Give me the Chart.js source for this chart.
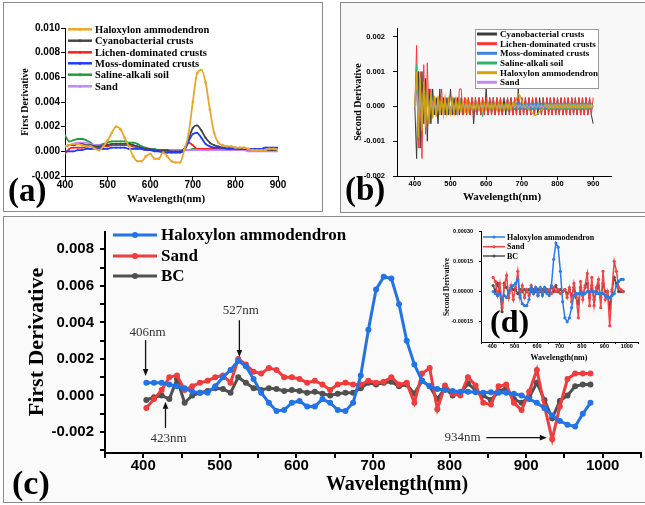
<!DOCTYPE html>
<html>
<head>
<meta charset="utf-8">
<script src="https://cdn.jsdelivr.net/npm/chart.js@4/dist/chart.umd.min.js"></script>
<style>
  html, body { margin: 0; padding: 0; background: #fff; }
  #page { position: relative; width: 645px; height: 505px; overflow: hidden; }
  .frame { position: absolute; box-sizing: border-box; border: 1px solid #8a8a8a; }
  canvas { position: absolute; left: 0; top: 0; }
</style>
</head>
<body>
<div id="page">
  <div class="frame" style="left:3px;top:2px;width:320px;height:210px;background:#fff"></div>
  <div class="frame" style="left:340px;top:2px;width:320px;height:211px;background:#f8f8f8"></div>
  <div class="frame" style="left:3px;top:216px;width:660px;height:287px;background:#fafafa"></div>
  <canvas id="chartA" width="645" height="505"></canvas>
  <canvas id="chartB" width="645" height="505"></canvas>
  <canvas id="chartC" width="645" height="505"></canvas>
  <canvas id="chartD" width="645" height="505"></canvas>
</div>
<script>
// ---- (a) first derivative, six surfaces ----
var wlA = [400,410,420,430,440,450,460,470,480,490,
  500,510,520,530,540,550,560,570,580,590,
  600,610,620,630,640,650,660,670,680,690,
  700,710,720,730,740,750,760,770,780,790,
  800,810,820,830,840,850,860,870,880,890,900];
var haloA = [0.0004,0.0005,0.0006,0.0006,0.0005,0.0004,0.0004,0.0002,0.0001,0.0004,
  0.0009,0.0015,0.0020,0.0018,0.0011,0.0004,-0.0004,-0.0008,-0.0008,-0.0004,
  -0.0002,-0.0006,-0.0006,-0.0001,-0.0004,-0.0008,-0.0009,-0.0009,0.0001,0.0014,
  0.0040,0.0063,0.0066,0.0056,0.0034,0.0015,0.0007,0.0005,0.0004,0.0004,
  0.0003,0.0003,0.0003,0.0002,0.0001,0.0001,0.0001,0.0001,0.0002,0.0002,0.0001];
var cyanoA = [0.0004,0.0005,0.0005,0.0006,0.0006,0.0005,0.0005,0.0004,0.0004,0.0005,
  0.0005,0.0006,0.0006,0.0006,0.0006,0.0006,0.0005,0.0004,0.0003,0.0002,
  0.0002,0.0001,0.0001,0.0001,0.0001,0.0000,0.0000,0.0000,0.0002,0.0010,
  0.0019,0.0021,0.0017,0.0011,0.0007,0.0005,0.0004,0.0003,0.0003,0.0003,
  0.0003,0.0002,0.0002,0.0002,0.0002,0.0002,0.0001,0.0001,0.0001,0.0001,0.0001];
var lichenA = [-0.0002,0.0002,0.0003,0.0003,0.0003,0.0003,0.0002,0.0003,0.0003,0.0004,
  0.0004,0.0005,0.0005,0.0005,0.0005,0.0005,0.0004,0.0003,0.0002,0.0001,
  0.0001,0.0001,0.0001,0.0000,0.0000,0.0000,0.0000,0.0000,0.0001,0.0007,
  0.0005,0.0002,0.0002,0.0002,0.0002,0.0002,0.0002,0.0002,0.0002,0.0002,
  0.0002,0.0001,0.0001,0.0001,0.0001,0.0001,0.0001,0.0001,0.0001,0.0001,0.0001];
var mossA = [0.0000,0.0000,0.0000,0.0001,0.0001,0.0002,0.0002,0.0002,0.0002,0.0002,
  0.0002,0.0003,0.0003,0.0003,0.0003,0.0002,0.0002,0.0002,0.0002,0.0001,
  0.0001,0.0000,0.0000,-0.0001,-0.0001,-0.0001,-0.0001,-0.0001,0.0001,0.0008,
  0.0014,0.0015,0.0011,0.0006,0.0004,0.0003,0.0003,0.0003,0.0002,0.0002,
  0.0002,0.0002,0.0002,0.0002,0.0002,0.0002,0.0002,0.0003,0.0003,0.0003,0.0003];
var salineA = [0.0013,0.0008,0.0009,0.0010,0.0010,0.0009,0.0007,0.0005,0.0005,0.0006,
  0.0007,0.0008,0.0008,0.0008,0.0008,0.0007,0.0007,0.0006,0.0004,0.0003,
  0.0002,0.0002,0.0001,0.0001,0.0001,0.0001,0.0001,0.0001,0.0001,0.0001,
  0.0002,0.0002,0.0002,0.0002,0.0002,0.0002,0.0002,0.0002,0.0002,0.0002,
  0.0002,0.0002,0.0001,0.0001,0.0001,0.0001,0.0001,0.0001,0.0001,0.0001,0.0001];
var sandA = [0.0004,0.0005,0.0006,0.0007,0.0007,0.0007,0.0006,0.0005,0.0005,0.0005,
  0.0005,0.0006,0.0006,0.0006,0.0006,0.0006,0.0005,0.0004,0.0003,0.0002,
  0.0002,0.0001,0.0001,0.0001,0.0001,0.0001,0.0001,0.0001,0.0001,0.0001,
  0.0001,0.0001,0.0001,0.0001,0.0001,0.0001,0.0001,0.0001,0.0001,0.0001,
  0.0001,0.0001,0.0001,0.0000,0.0000,0.0000,0.0000,0.0000,0.0000,0.0000,0.0000];
var ticksAx = [400,500,600,700,800,900];
var ticksAy = [-0.002,0,0.002,0.004,0.006,0.008,0.010];

// ---- (b) second derivative, values in units of 1e-4 ----
var unitB = 1e-4;
var wlB = [400,405,410,415,420,425,430,435,440,445,
  450,455,460,465,470,475,480,485,490,495,
  500,505,510,515,520,525,530,535,540,545,
  550,555,560,565,570,575,580,585,590,595,
  600,605,610,615,620,625,630,635,640,645,
  650,655,660,665,670,675,680,685,690,695,
  700,705,710,715,720,725,730,735,740,745,
  750,755,760,765,770,775,780,785,790,795,
  800,805,810,815,820,825,830,835,840,845,
  850,855,860,865,870,875,880,885,890,895,900];
var cyanoB = [0,-15,10,-12,10,-5,8,-10,5,-5,
  5,-2.5,2.5,-5,5,-2.5,2.5,-2.5,2.5,-2.5,
  5,-2.5,2.5,-2.5,2.5,-2.5,2.5,-2.5,2.5,-2.5,
  2.5,-2.5,2.5,-5,2.5,-2.5,2.5,-2.5,2.5,-2.5,
  5,-2.5,2.5,-2.5,2.5,-2.5,2.5,-2.5,2.5,-2.5,
  2.5,-2.5,2.5,-2.5,2.5,-2.5,2.5,-2.5,5,-2.5,
  2.5,-2.5,2.5,-2.5,2.5,-2.5,2.5,-2.5,2.5,-2.5,
  2.5,-2.5,2.5,-2.5,2.5,-2.5,2.5,-2.5,2.5,-2.5,
  2.5,-2.5,2.5,-2.5,2.5,-2.5,2.5,-2.5,2.5,-2.5,
  2.5,-2.5,2.5,-2.5,2.5,-2.5,2.5,-2.5,2.5,-2.5,-5];
var lichenB = [0,17.5,-12,10,-15,12,-8,12.5,-5,5,
  -2.5,2.5,-2.5,2.5,-2.5,5,-2.5,2.5,-2.5,2.5,
  -2.5,2.5,-2.5,2.5,-2.5,5,5,-2.5,2.5,-2.5,
  2.5,-2.5,2.5,-2.5,2.5,-2.5,2.5,-2.5,2.5,-2.5,
  2.5,-2.5,2.5,-2.5,2.5,-2.5,2.5,-2.5,2.5,-2.5,
  0,0,2.5,-2.5,2.5,-2.5,2.5,-2.5,2.5,-2.5,
  2.5,-2.5,2.5,-2.5,2.5,-2.5,2.5,-2.5,2.5,0,
  0,-2.5,2.5,-2.5,2.5,-2.5,2.5,-2.5,2.5,-2.5,
  2.5,-2.5,2.5,-2.5,2.5,-2.5,2.5,-2.5,2.5,-2.5,
  2.5,-2.5,2.5,-2.5,2.5,-2.5,2.5,-2.5,2.5,-2.5,2.5];
var mossB = [0,5,-6,4,-5,4,-3,5,-2,1.5,
  -1.5,1,-1,1.5,-1,1,-1.5,1,-1,1,
  -1,1,-1,1,-1,1.5,-1,1,-1,1,
  -1,1,-1,1,-1.5,1,-1,1,-1,1,
  -1,1,-1,1,-1,1,-1,1,-1,1,
  -1,1,-1,1,-1,1,-1,1,1.5,-1,
  1,-1,1,-1,1,-1,1,-1,1,-1,
  1,-1,1,-1,1,-1,1,-1,1,-1,
  1,-1,1,-1,1,-1,1,-1,1,-1,
  1,-1,1,-1,1,-1,1,-1,1,-1,0];
var salineB = [0,12,-7,8,-6,6,-5,4,-4,3,
  -3,2.5,-2.5,2,-2,2,-2,1.5,-1.5,1.5,
  -1.5,1.5,-1.5,1.5,-1.5,1.5,-1.5,1,-1,1,
  -1,1,-1,1,-1,1,-1,1,-3,1,
  -1,1,-1,1,-1,1,-1,1,-1,1,
  -1,1,-1,1,-1,1,-1,1,-1,1,
  -1,1,-1,1,-1,1,-1,1,-1,1,
  -1,1,-1,1,-1,1,-1,1,-1,1,
  -1,1,-1,1,-1,1,-1,1,-1,1,
  -1,1,-1,1,-1,1,-1,1,-1,1,0];
var haloB = [0,10,-9,8,-7,7,-6,5,-5,4,
  -3.5,3,-3,3,-2.5,2.5,-2.5,2.5,-2,2,
  -2,2,-2,2,-2,2,-1.5,1.5,-1.5,1.5,
  -1.5,1,-1,1,-1,1,-1,1,-1,1,
  -1,1,-1,1,-1,1,-1,1,-1,1,
  -1,1,-1,1,-1,1,0.5,2,3.5,3,
  1.5,0.5,0,-0.5,-1,-1.5,-2,-2.5,-2.5,-2,
  -1.5,-1,-0.5,0,0.5,-0.5,0.5,-0.5,0.5,-0.5,
  0.5,-0.5,0.5,-0.5,0.5,-0.5,0.5,-0.5,0.5,-0.5,
  0.5,-0.5,0.5,-0.5,0.5,-0.5,0.5,-0.5,0.5,-0.5,0];
var sandB = [0,3,-3,2,-2,1.5,-1.5,1,-1,0.5,
  -0.5,0.5,-0.5,0.5,-0.5,0.5,-0.5,0.5,-0.5,0.5,
  -0.5,0.5,-0.5,0.5,-0.5,0.5,-0.5,0.5,-0.5,0.5,
  -0.5,0.5,-0.5,0.5,-0.5,0.5,-0.5,0.5,-0.5,0.5,
  -0.5,0.5,-0.5,0.5,-0.5,0.5,-0.5,0.5,-0.5,0.5,
  -0.5,0.5,-0.5,0.5,-0.5,0.5,-0.5,0.5,-0.5,0.5,
  -0.5,0.5,-0.5,0.5,-0.5,0.5,-0.5,0.5,-0.5,0.5,
  -0.5,0.5,-0.5,0.5,-0.5,0.5,-0.5,0.5,-0.5,0.5,
  -0.5,0.5,-0.5,0.5,-0.5,0.5,-0.5,0.5,-0.5,0.5,
  -0.5,0.5,-0.5,0.5,-0.5,0.5,-0.5,0.5,-0.5,0.5,0];
var ticksBx = [400,500,600,700,800,900];
var ticksBy = [-0.002,-0.001,0,0.001,0.002];

// ---- (c) first derivative and (d) second derivative, three surfaces ----
var wlC = [404,414,424,434,444,454,464,474,484,494,
  504,514,524,534,544,554,564,574,584,594,
  604,614,624,634,644,654,664,674,684,694,
  704,714,724,734,744,754,764,774,784,794,
  804,814,824,834,844,854,864,874,884,894,
  904,914,924,934,944,954,964,974,984];
var haloC = [0.0007,0.0007,0.0007,0.0006,0.0005,0.0004,0.0002,0.00015,0.00015,0.0005,
  0.0010,0.0014,0.0019,0.0016,0.0009,0.00015,-0.0004,-0.00085,-0.0008,-0.0004,
  -0.0003,-0.0006,-0.0006,-0.0002,-0.0004,-0.0008,-0.00085,-0.0004,0.0011,0.0036,
  0.0058,0.0065,0.0064,0.0050,0.0030,0.0017,0.0008,0.0005,0.00035,0.0003,
  0.00025,0.0002,0.0002,0.00018,0.00015,0.00017,0.00015,0.00015,0.0001,0.0000,
  -0.0002,-0.0004,-0.0007,-0.0011,-0.0014,-0.0016,-0.0017,-0.0010,-0.0004];
var sandC = [-0.00068,-0.0002,0.0003,0.0010,0.0011,0.0003,0.0005,0.0007,0.0008,0.0010,
  0.0011,0.0007,0.0020,0.0017,0.0013,0.0012,0.0015,0.0014,0.0010,0.0010,
  0.0009,0.0007,0.0008,0.0006,0.0003,0.0006,0.0007,0.0006,0.0006,0.0008,
  0.0007,0.00075,0.0010,0.0006,0.0007,-0.0004,0.0012,0.0015,-0.00075,0.00055,
  0.0001,0.0000,0.0010,0.00055,-0.0004,-0.0005,0.0005,0.0006,-0.0004,-0.0008,
  0.0002,0.0014,-0.0006,-0.0024,-0.0006,0.0009,0.0012,0.0012,0.0012];
var bcC = [-0.00025,-0.0001,0.0000,-0.0002,0.0009,-0.0004,0.0000,0.00015,0.00025,0.0004,
  0.00035,0.00015,0.0010,0.0007,0.0004,0.0003,0.0004,0.00035,0.00025,0.0003,
  0.00025,0.00015,0.0002,0.0001,0.0000,0.0001,0.00015,0.00015,0.0004,0.0007,
  0.0006,0.0007,0.00075,0.0005,0.0006,0.0001,0.0008,0.0005,-0.0002,0.0004,
  0.0000,0.0001,0.00065,0.0003,0.0000,-0.00025,0.0002,0.0004,-0.0002,-0.0004,
  -0.0001,0.0007,-0.00025,-0.00125,-0.0003,0.0000,0.0005,0.0006,0.0006];
var haloD = [0,-0.00001,-0.00002,-0.00001,-0.00004,-0.00002,-0.00003,0,0.00002,0.00003,
  0.00004,0.00006,-0.00002,-0.00006,-0.00007,-0.00007,-0.00004,0.00002,-0.00001,0.00002,
  -0.00002,0.00002,-0.00002,0.00002,-0.00001,-0.00002,0.00003,0.00016,0.00024,0.00022,
  0.0001,-0.00005,-0.00013,-0.00015,-0.00013,-0.00008,-0.00002,-0.00001,-0.00001,-0.00001,
  -0.00001,-0.00001,0,0,0,0,-0.00001,-0.00001,-0.00001,-0.00001,
  -0.00002,-0.00003,-0.00003,-0.00002,-0.00001,0.00003,0.00005,0.00006,0.00006];
var sandD = [0.00007,0.00005,-0.00002,0.00004,-0.00008,0.00003,0.00008,-0.00003,0.00003,-0.00004,
  0.00002,0.0001,-0.00003,0.00003,-0.00003,0.00001,-0.00002,0.00003,-0.00001,0.00002,
  -0.00002,0.00001,-0.00001,0.00002,0,0.00001,-0.00001,0.00002,0,0.00001,
  -0.00001,0,0.00001,-0.00003,0.00002,-0.00005,0.00004,-0.00002,-0.00013,0.00005,
  -0.00004,0.00003,0.00009,-0.00007,0.00007,-0.00007,0.00002,0.00006,-0.00008,0.0001,
  -0.00004,0,-0.00017,0.00001,0.00015,0.0001,0.00002,0.00001,0];
var bcD = [0.00003,0,0.00004,0,-0.0001,0.00004,0.00002,-0.00001,0.00002,0.00001,
  0.00001,-0.00001,0.00001,0,0.00001,0,0.00001,0,0.00001,0,
  0.00001,0,0.00001,0,0.00001,0,0.00002,0,0.00003,0,
  0.00001,0,0.00001,-0.00001,0.00001,-0.00002,0.00002,-0.00003,-0.00006,0.00002,
  -0.00002,0.00002,0.00004,-0.00003,0.00003,-0.00004,0,0.00003,-0.00003,0.00004,
  0,0,-0.00008,0,0.00007,0.00004,0,0,0];
var ticksCx = [400,500,600,700,800,900,1000];
var minorCx = [350,450,550,650,750,850,950,1050];
var ticksCy = [-0.002,0,0.002,0.004,0.006,0.008];
var minorCy = [-0.003,-0.001,0.001,0.003,0.005,0.007];
var ticksDy = [-0.00015,0,0.00015,0.0003];

// ---- layout helpers ----
var W = 645, H = 505;
var SANS = '"Liberation Sans", Arial, sans-serif';
var SERIF = '"Liberation Serif", "Times New Roman", serif';

// area = [left, top, right, bottom] of the plot box; box = [y axis width, x axis height]
function pad(a, box) {
  return { left: a[0] - box[0], top: a[1], right: W - a[2], bottom: H - a[3] - box[1] };
}

function axis(o) {
  var all = o.major.concat(o.minor || []).sort(function (p, q) { return p - q; });
  return {
    type: 'linear', min: o.min, max: o.max,
    afterBuildTicks: function (s) { s.ticks = all.map(function (v) { return { value: v }; }); },
    afterFit: function (s) { if (o.y) s.width = o.box[0]; else s.height = o.box[1]; },
    ticks: {
      autoSkip: false, maxRotation: 0, padding: o.pad, color: '#000',
      font: { family: SANS, size: o.size, weight: 'bold', lineHeight: 1 },
      callback: function (v) { return o.major.indexOf(v) >= 0 ? v.toFixed(o.dec) : ''; }
    },
    grid: { drawOnChartArea: false, drawTicks: true, tickLength: o.tick, color: '#000', lineWidth: o.lw || 1 },
    border: { display: true, color: '#000', width: o.lw || 1 }
  };
}

function series(label, xs, ys, unit, color, w, r, order, smooth) {
  return {
    label: label,
    data: xs.map(function (x, i) { return { x: x, y: ys[i] * unit }; }),
    borderColor: color, backgroundColor: color,
    borderWidth: w, pointRadius: r, pointBorderWidth: 0, pointHoverRadius: 0,
    order: order, fill: false,
    tension: smooth ? 0.4 : 0,
    cubicInterpolationMode: smooth ? 'monotone' : 'default'
  };
}

function options(area, box, scales, plug) {
  var p = { legend: { display: false }, tooltip: { enabled: false } };
  for (var k in plug) p[k] = plug[k];
  return {
    responsive: false, animation: false, devicePixelRatio: 1, events: [],
    layout: { padding: pad(area, box) },
    scales: scales,
    plugins: p
  };
}

// ---- plugins: free text, in-plot legend, arrows ----
var pageText = {
  id: 'pageText',
  afterDraw: function (chart, args, o) {
    if (!o || !o.items) return;
    var ctx = chart.ctx;
    o.items.forEach(function (t) {
      ctx.save();
      ctx.font = t.font;
      ctx.fillStyle = '#000';
      ctx.textAlign = t.align || 'center';
      ctx.textBaseline = t.base || 'middle';
      ctx.translate(t.x, t.y);
      if (t.rot) ctx.rotate(t.rot * Math.PI / 180);
      ctx.fillText(t.text, 0, 0);
      ctx.restore();
    });
  }
};

var plotLegend = {
  id: 'plotLegend',
  afterDraw: function (chart, args, o) {
    if (!o || !o.rows) return;
    var ctx = chart.ctx;
    ctx.save();
    if (o.box) {
      ctx.fillStyle = '#fff';
      ctx.fillRect(o.box[0], o.box[1], o.box[2] - o.box[0], o.box[3] - o.box[1]);
      ctx.strokeStyle = '#9a9a9a';
      ctx.lineWidth = 1;
      ctx.strokeRect(o.box[0] + 0.5, o.box[1] + 0.5, o.box[2] - o.box[0], o.box[3] - o.box[1]);
    }
    o.rows.forEach(function (r) {
      var ds = chart.data.datasets[r.ds];
      ctx.strokeStyle = ds.borderColor;
      ctx.lineWidth = o.lw;
      ctx.beginPath();
      ctx.moveTo(o.x0, r.y);
      ctx.lineTo(o.x1, r.y);
      ctx.stroke();
      if (o.mark) {
        ctx.fillStyle = ds.borderColor;
        ctx.beginPath();
        ctx.arc((o.x0 + o.x1) / 2, r.y, o.mark, 0, Math.PI * 2);
        ctx.fill();
      }
      ctx.fillStyle = '#000';
      ctx.font = o.font;
      ctx.textAlign = 'left';
      ctx.textBaseline = 'middle';
      ctx.fillText(ds.label, o.tx, r.y + 0.5);
    });
    ctx.restore();
  }
};

var arrows = {
  id: 'arrows',
  afterDraw: function (chart, args, o) {
    if (!o || !o.lines) return;
    var sx = chart.scales.x, sy = chart.scales.y, ctx = chart.ctx;
    ctx.save();
    ctx.strokeStyle = '#111';
    ctx.fillStyle = '#111';
    ctx.lineWidth = 1.3;
    o.lines.forEach(function (a) {
      var x1 = sx.getPixelForValue(a.from[0]), y1 = sy.getPixelForValue(a.from[1]);
      var x2 = sx.getPixelForValue(a.to[0]), y2 = sy.getPixelForValue(a.to[1]);
      var ang = Math.atan2(y2 - y1, x2 - x1), c = Math.cos(ang), s = Math.sin(ang);
      ctx.beginPath();
      ctx.moveTo(x1, y1);
      ctx.lineTo(x2 - 5 * c, y2 - 5 * s);
      ctx.stroke();
      ctx.beginPath();
      ctx.moveTo(x2, y2);
      ctx.lineTo(x2 - 7 * c + 2.8 * s, y2 - 7 * s - 2.8 * c);
      ctx.lineTo(x2 - 7 * c - 2.8 * s, y2 - 7 * s + 2.8 * c);
      ctx.closePath();
      ctx.fill();
    });
    ctx.fillStyle = '#333';
    ctx.font = o.font;
    ctx.textAlign = 'center';
    ctx.textBaseline = 'middle';
    o.notes.forEach(function (n) {
      ctx.fillText(n.text, sx.getPixelForValue(n.at[0]), sy.getPixelForValue(n.at[1]));
    });
    ctx.restore();
  }
};

Chart.register(pageText, plotLegend, arrows);

// ---- (a) ----
var boxA = [60, 20];
new Chart(document.getElementById('chartA'), {
  type: 'line',
  data: { datasets: [
    series('Haloxylon ammodendron', wlA, haloA, 1, '#E9A72C', 1.8, 1.3, 0, true),
    series('Cyanobacterial crusts', wlA, cyanoA, 1, '#474747', 1.8, 0.9, 2, true),
    series('Lichen-dominated crusts', wlA, lichenA, 1, '#FF1F1F', 1.8, 0.9, 4, true),
    series('Moss-dominated crusts', wlA, mossA, 1, '#1E3BFF', 1.8, 0.9, 1, true),
    series('Saline-alkali soil', wlA, salineA, 1, '#239A3B', 1.8, 0.9, 5, true),
    series('Sand', wlA, sandA, 1, '#C286FF', 1.8, 0.9, 3, true)
  ] },
  options: options([65, 28, 278, 176], boxA, {
    x: axis({ box: boxA, min: 400, max: 900, major: ticksAx, dec: 0, size: 10, tick: 4, pad: 0 }),
    y: axis({ box: boxA, y: true, min: -0.002, max: 0.010, major: ticksAy, dec: 3, size: 10, tick: 4, pad: 1 })
  }, {
    pageText: { items: [
      { text: 'First Derivative', x: 25, y: 102, rot: -90, font: 'bold 10px ' + SERIF },
      { text: 'Wavelength(nm)', x: 166, y: 199, font: 'bold 11px ' + SERIF },
      { text: '(a)', x: 8, y: 201, align: 'left', base: 'alphabetic', font: 'bold 33px ' + SERIF }
    ] },
    plotLegend: { x0: 68, x1: 92, tx: 95, lw: 2.5, mark: 1.5, font: 'bold 10.5px ' + SERIF,
      rows: [{ ds: 0, y: 29.3 }, { ds: 1, y: 40.7 }, { ds: 2, y: 52.3 }, { ds: 3, y: 63.3 }, { ds: 4, y: 74.7 }, { ds: 5, y: 86.3 }] }
  })
});

// ---- (b) ----
var boxB = [50, 20];
new Chart(document.getElementById('chartB'), {
  type: 'line',
  data: { datasets: [
    series('Cyanobacterial crusts', wlB, cyanoB, unitB, '#3a3a3a', 1, 0, 5, false),
    series('Lichen-dominated crusts', wlB, lichenB, unitB, '#FF3434', 1, 0, 4, false),
    series('Moss-dominated crusts', wlB, mossB, unitB, '#3F80E4', 1, 0, 3, false),
    series('Saline-alkali soil', wlB, salineB, unitB, '#2FB36E', 1, 0, 2, false),
    series('Haloxylon ammodendron', wlB, haloB, unitB, '#D6A20E', 1.2, 0, 0, false),
    series('Sand', wlB, sandB, unitB, '#C48AF2', 1, 0, 1, false)
  ] },
  options: options([397, 28, 611, 176], boxB, {
    x: axis({ box: boxB, min: 350, max: 950, major: ticksBx, dec: 0, size: 7.5, tick: 4, pad: 0 }),
    y: axis({ box: boxB, y: true, min: -0.002, max: 0.00225, major: ticksBy, dec: 3, size: 7.5, tick: 4, pad: 8 })
  }, {
    pageText: { items: [
      { text: 'Second Derivative', x: 358, y: 102, rot: -90, font: 'bold 10px ' + SERIF },
      { text: 'Wavelength(nm)', x: 502, y: 197, font: 'bold 11px ' + SERIF },
      { text: '(b)', x: 345, y: 200, align: 'left', base: 'alphabetic', font: 'bold 33px ' + SERIF }
    ] },
    plotLegend: { box: [475, 29, 598, 88], x0: 477, x1: 497, tx: 500, lw: 3, mark: 0, font: 'bold 9px ' + SERIF,
      rows: [{ ds: 0, y: 34 }, { ds: 1, y: 43.7 }, { ds: 2, y: 53.3 }, { ds: 3, y: 63 }, { ds: 4, y: 72.7 }, { ds: 5, y: 82.3 }] }
  })
});

// ---- (c) ----
var boxC = [95, 30];
new Chart(document.getElementById('chartC'), {
  type: 'line',
  data: { datasets: [
    series('Haloxylon ammodendron', wlC, haloC, 1, '#2273E6', 3, 3, 0, false),
    series('Sand', wlC, sandC, 1, '#F03C3C', 3, 3, 1, false),
    series('BC', wlC, bcC, 1, '#505050', 3, 3, 2, false)
  ] },
  options: options([105, 232, 641, 453], boxC, {
    x: axis({ box: boxC, min: 350, max: 1050, major: ticksCx, minor: minorCx, dec: 0, size: 15, tick: 5, pad: 0, lw: 2 }),
    y: axis({ box: boxC, y: true, min: -0.00315, max: 0.00895, major: ticksCy, minor: minorCy, dec: 3, size: 15, tick: 5, pad: 6, lw: 2 })
  }, {
    pageText: { items: [
      { text: 'First Derivative', x: 37, y: 342, rot: -90, font: 'bold 22px ' + SERIF },
      { text: 'Wavelength(nm)', x: 397, y: 485, font: 'bold 20px ' + SERIF },
      { text: '(c)', x: 12, y: 494, align: 'left', base: 'alphabetic', font: 'bold 34px ' + SERIF }
    ] },
    plotLegend: { x0: 113, x1: 157, tx: 161, lw: 3, mark: 3, font: 'bold 17px ' + SERIF,
      rows: [{ ds: 0, y: 235 }, { ds: 1, y: 256 }, { ds: 2, y: 276 }] },
    arrows: {
      font: '13px ' + SERIF,
      lines: [
        { from: [403, 0.00303], to: [403, 0.00106] },
        { from: [525.5, 0.00412], to: [525.5, 0.00211] },
        { from: [429, -0.00178], to: [429, -0.00034] },
        { from: [848, -0.00231], to: [927, -0.00231] }
      ],
      notes: [
        { text: '406nm', at: [405.5, 0.00347] },
        { text: '527nm', at: [527.5, 0.00463] },
        { text: '423nm', at: [433, -0.00238] },
        { text: '934nm', at: [817, -0.00231] }
      ]
    }
  })
});

// ---- (d) inset ----
var boxD = [40, 20];
new Chart(document.getElementById('chartD'), {
  type: 'line',
  data: { datasets: [
    series('Haloxylon ammodendron', wlC, haloD, 1, '#2A7BEA', 1.5, 1.6, 0, false),
    series('Sand', wlC, sandD, 1, '#F24444', 1.5, 1.6, 1, false),
    series('BC', wlC, bcD, 1, '#505050', 1.5, 1.6, 2, false)
  ] },
  options: options([481, 231, 638, 342], boxD, {
    x: axis({ box: boxD, min: 350, max: 1050, major: ticksCx, minor: minorCx, dec: 0, size: 5.5, tick: 2, pad: 0 }),
    y: axis({ box: boxD, y: true, min: -0.00025, max: 0.0003, major: ticksDy, dec: 5, size: 5.5, tick: 2, pad: 6 })
  }, {
    pageText: { items: [
      { text: 'Second Derivative', x: 447, y: 287, rot: -90, font: 'bold 7.5px ' + SERIF },
      { text: 'Wavelength(nm)', x: 559, y: 358, font: 'bold 8px ' + SERIF },
      { text: '(d)', x: 490, y: 332, align: 'left', base: 'alphabetic', font: 'bold 32px ' + SERIF }
    ] },
    plotLegend: { x0: 483, x1: 505, tx: 507, lw: 1.5, mark: 1.5, font: 'bold 8px ' + SERIF,
      rows: [{ ds: 0, y: 237 }, { ds: 1, y: 246.7 }, { ds: 2, y: 256 }] }
  })
});
</script>
</body>
</html>
